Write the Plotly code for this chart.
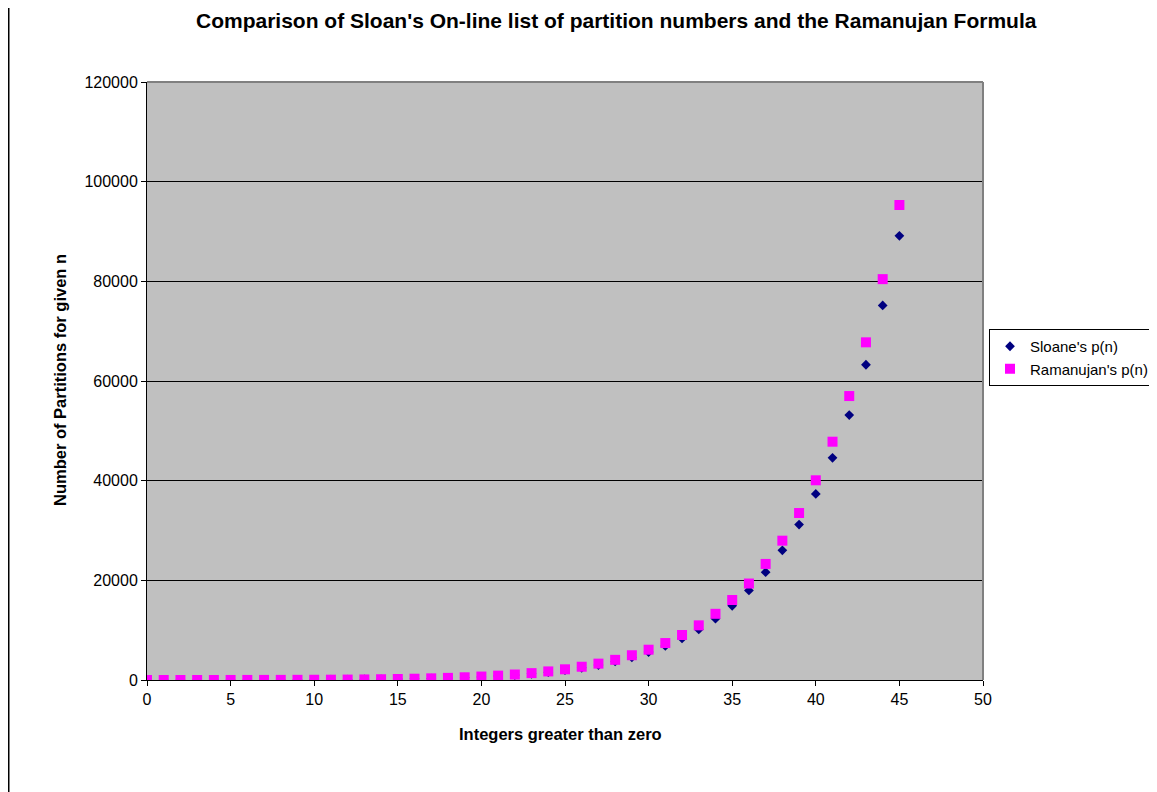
import plotly.graph_objects as go

n_values = list(range(0, 46))
sloane_p = [1, 1, 2, 3, 5, 7, 11, 15, 22, 30, 42, 56, 77, 101, 135, 176, 231, 297, 385, 490,
            627, 792, 1002, 1255, 1575, 1958, 2436, 3010, 3718, 4565, 5604, 6842, 8349, 10143,
            12310, 14883, 17977, 21637, 26015, 31185, 37338, 44583, 53174, 63261, 75175, 89134]
ramanujan_p = [0, 1.88, 2.72, 4.09, 6.10, 8.94, 12.88, 18.26, 25.5, 35.2, 48.1, 64.9, 86.9, 115.2,
               151.8, 198.4, 257.6, 332.6, 426.8, 544.9, 691.9, 874.6, 1101, 1380, 1724, 2146,
               2660, 3285, 4045, 4966, 6078, 7417, 9030, 10966, 13283, 16050, 19358, 23290,
               27960, 33505, 40075, 47820, 56980, 67760, 80440, 95320]

title_text = "Comparison of Sloan's On-line list of partition numbers and the Ramanujan Formula"
x_title = "Integers greater than zero"
y_title = "Number of Partitions for given n"

W, H = 1157, 792
OFF = 8  # page body margin
L, R, T, B = 147 - OFF, 983 - OFF, 82 - OFF, 680 - OFF
pw, ph = R - L, B - T

def px(x):
    return (x - OFF - L) / pw

def py(y):
    return (B - (y - OFF)) / ph

font = "Liberation Sans, Arial, sans-serif"

fig = go.Figure()
fig.add_trace(go.Scatter(
    x=n_values, y=sloane_p, mode="markers", name="Sloane's p(n)",
    marker=dict(symbol="diamond", size=7.5, color="#000080", line=dict(width=0)),
))
fig.add_trace(go.Scatter(
    x=n_values, y=ramanujan_p, mode="markers", name="Ramanujan's p(n)",
    marker=dict(symbol="square", size=10, color="#FF00FF", line=dict(width=0)),
))

fig.update_layout(
    width=W, height=H,
    margin=dict(l=L, r=W - R, t=T, b=H - B, autoexpand=False),
    paper_bgcolor="white",
    plot_bgcolor="#C0C0C0",
    font=dict(family=font, size=16, color="black"),
    showlegend=True,
    legend=dict(
        x=px(989), y=py(329), xanchor="left", yanchor="top",
        bgcolor="white", bordercolor="black", borderwidth=1,
        font=dict(family=font, size=15, color="black"),
        itemsizing="trace", tracegroupgap=0,
    ),
    xaxis=dict(
        range=[0, 50], tickmode="linear", tick0=0, dtick=5,
        showgrid=False, zeroline=False,
        showline=True, linecolor="black", linewidth=1,
        ticks="outside", ticklen=5, tickcolor="black",
        tickfont=dict(family=font, size=16, color="black"),
    ),
    yaxis=dict(
        range=[0, 120000], tickmode="linear", tick0=0, dtick=20000,
        showgrid=True, gridcolor="black", gridwidth=1,
        zeroline=False,
        showline=True, linecolor="black", linewidth=1,
        ticks="outside", ticklen=5, tickcolor="black",
        tickformat="d",
        tickfont=dict(family=font, size=16, color="black"),
    ),
    annotations=[
        dict(text="<b>" + title_text + "</b>", xref="paper", yref="paper",
             x=px(616), y=py(21), xanchor="center", yanchor="middle", showarrow=False,
             font=dict(family=font, size=21, color="black")),
        dict(text="<b>" + x_title + "</b>", xref="paper", yref="paper",
             x=px(560), y=py(734), xanchor="center", yanchor="middle", showarrow=False,
             font=dict(family=font, size=16.5, color="black")),
        dict(text="<b>" + y_title + "</b>", xref="paper", yref="paper",
             x=px(60), y=py(380), xanchor="center", yanchor="middle", showarrow=False,
             textangle=-90, font=dict(family=font, size=16.5, color="black")),
    ],
    shapes=[
        dict(type="line", xref="paper", yref="paper", x0=0, x1=1, y0=1, y1=1,
             line=dict(color="#808080", width=2), layer="above"),
        dict(type="line", xref="paper", yref="paper", x0=1, x1=1, y0=0, y1=1,
             line=dict(color="#808080", width=2), layer="above"),
        dict(type="line", xref="paper", yref="paper", x0=px(8.5), x1=px(8.5), y0=py(0), y1=py(800),
             line=dict(color="black", width=2)),
    ],
)

fig.write_html("out.html")
